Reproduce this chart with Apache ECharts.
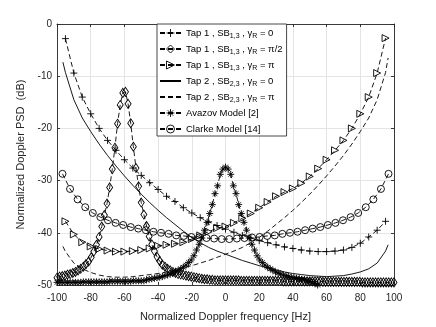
<!DOCTYPE html>
<html>
<head>
<meta charset="utf-8">
<script src="https://cdn.jsdelivr.net/npm/echarts@6/dist/echarts.min.js"></script>
<style>
html, body { margin: 0; padding: 0; background: #fff; }
#main { width: 436px; height: 327px; }
</style>
</head>
<body>
<div id="main"></div>
<script>
// frequency grids [Hz]
var freqTap1 = [-95, -90, -85, -80, -75, -70, -65, -60, -55, -50, -45, -40, -35, -30, -25, -20, -15, -10, -5, 0,
    5, 10, 15, 20, 25, 30, 35, 40, 45, 50, 55, 60, 65, 70, 75, 80, 85, 90, 95];
var freqTap2 = [-96.5, -95, -90, -85, -80, -75, -70, -65, -60, -55, -50, -45, -40, -35, -30, -25, -20, -15, -10, -5, 0,
    5, 10, 15, 20, 25, 30, 35, 40, 45, 50, 55, 60, 65, 70, 75, 80, 85, 90, 95, 96.5];
var freqDense = [];
for (var i = 0; i <= 128; i++) freqDense.push(-100 + i * 200 / 128);
var freqClarke = [-96.75, -92.25, -87.75, -83.25, -78.75, -74.25, -69.75, -65.25, -60.75, -56.25, -51.75,
    -47.25, -42.75, -38.25, -33.75, -29.25, -24.75, -20.25, -15.75, -11.25, -6.75, -2.25,
    2.25, 6.75, 11.25, 15.75, 20.25, 24.75, 29.25, 33.75, 38.25, 42.75, 47.25,
    51.75, 56.25, 60.75, 65.25, 69.75, 74.25, 78.75, 83.25, 87.75, 92.25, 96.75];

// PSD values [dB]
var tap1Zero = [-2.8, -9.4, -14.0, -17.2, -20.0, -22.3, -24.2, -26.0, -27.6, -29.0, -30.4, -31.7, -33.0, -34.0, -35.2,
    -36.2, -37.1, -37.9, -38.6, -39.3, -39.9, -40.5, -41.0, -41.5, -41.9, -42.3, -42.7, -43.0, -43.3, -43.5,
    -43.6, -43.6, -43.5, -43.3, -42.8, -42.0, -40.8, -39.5, -37.8];
var tap1HalfPi = [
    -48.6, -48.4, -48.3, -48.2, -48.0, -47.9, -47.7, -47.5, -47.2, -46.9, -46.5, -46.0, -45.5, -44.7, -43.6, -42.3,
    -40.8, -38.8, -36.6, -34.4, -31.3, -27.8, -23.7, -19.1, -15.5, -13.2, -13.0, -15.3, -19.0, -23.5, -27.6, -31.1,
    -34.2, -36.5, -38.7, -40.7, -42.2, -43.5, -44.6, -45.4, -46.1, -46.5, -46.9, -47.2, -47.5, -47.7, -47.9, -48.0,
    -48.1, -48.2, -48.3, -48.4, -48.5, -48.6, -48.7, -48.8, -48.9, -48.9, -49.0, -49.0, -49.1, -49.1, -49.1, -49.1,
    -49.1, -49.1, -49.1, -49.1, -49.1, -49.1, -49.2, -49.2, -49.2, -49.2, -49.2, -49.2, -49.2, -49.2, -49.2, -49.2,
    -49.2, -49.2, -49.2, -49.2, -49.2, -49.2, -49.3, -49.3, -49.3, -49.3, -49.3, -49.3, -49.3, -49.3, -49.3, -49.3,
    -49.3, -49.3, -49.3, -49.3, -49.3, -49.4, -49.4, -49.4, -49.4, -49.4, -49.4, -49.4, -49.4, -49.4, -49.4, -49.4,
    -49.4, -49.4, -49.4, -49.4, -49.5, -49.5, -49.5, -49.5, -49.5, -49.5, -49.5, -49.5, -49.5, -49.5, -49.5, -49.5,
    -49.5];
var tap1Pi = [-37.8, -40.3, -41.8, -42.6, -43.1, -43.4, -43.6, -43.6, -43.5, -43.3, -43.0, -42.5, -42.3, -42.1, -41.8,
    -41.2, -40.5, -39.8, -39.1, -38.8, -38.1, -37.2, -36.3, -35.2, -34.1, -33.0, -32.2, -31.5, -30.5, -29.2,
    -27.7, -26.0, -24.2, -22.3, -20.0, -17.2, -14.0, -9.4, -2.7];
var tap2Zero = [-7.3, -9.3, -14.5, -18.0, -20.6, -23.0, -25.2, -27.2, -29.1, -30.9, -32.6, -34.2, -35.7, -37.1, -38.4,
    -39.7, -40.9, -41.9, -42.8, -43.5, -44.1, -44.7, -45.3, -45.8, -46.3, -46.7, -47.1, -47.5, -47.8, -48.0,
    -48.2, -48.3, -48.4, -48.3, -48.2, -47.9, -47.5, -46.9, -45.8, -43.5, -42.3];
var tap2Pi = [-42.6, -43.6, -45.8, -46.9, -47.6, -48.1, -48.4, -48.5, -48.5, -48.4, -48.2, -48.0, -47.8, -47.5, -47.1,
    -46.7, -46.3, -45.8, -45.3, -44.7, -44.1, -43.5, -42.8, -41.9, -40.9, -39.7, -38.4, -37.1, -35.7, -34.2,
    -32.6, -30.9, -29.1, -27.2, -25.2, -23.0, -20.6, -18.0, -14.5, -9.3, -6.5];
var avazov = [
    -49.5, -49.5, -49.5, -49.5, -49.5, -49.5, -49.5, -49.5, -49.5, -49.5, -49.4, -49.4, -49.4, -49.4, -49.4, -49.4,
    -49.4, -49.4, -49.4, -49.4, -49.3, -49.3, -49.3, -49.3, -49.3, -49.3, -49.3, -49.3, -49.3, -49.2, -49.2, -49.2,
    -49.2, -49.2, -49.0, -48.9, -48.8, -48.7, -48.6, -48.5, -48.4, -48.2, -48.1, -47.9, -47.7, -47.5, -47.2, -46.9,
    -46.6, -46.2, -45.7, -45.2, -44.4, -43.3, -42.2, -41.0, -39.5, -38.0, -36.3, -34.6, -32.5, -31.0, -28.8, -27.8,
    -27.4,
    -27.8, -28.8, -31.0, -32.5, -34.6, -36.3, -38.0, -39.5, -41.0, -42.2, -43.3, -44.4, -45.2, -45.7, -46.2, -46.6,
    -46.9, -47.2, -47.5, -47.7, -47.9, -48.1, -48.2, -48.4, -48.5, -48.6, -48.7, -48.8, -48.9, -49.0, -49.2, -49.3,
    -49.5, -49.7, -50.0, -50.4, -50.6, -50.8, -51.0, -51.0, -51.0, -51.0, -51.0, -51.0, -51.0, -51.0, -51.0, -51.0,
    -51.0, -51.0, -51.0, -51.0, -51.0, -51.0, -51.0, -51.0, -51.0, -51.0, -51.0, -51.0, -51.0, -51.0, -51.0, -51.0];
var clarke = [-28.7, -31.6, -33.6, -35.1, -36.2, -37.0, -37.6, -38.1, -38.5, -38.9, -39.2, -39.5, -39.8, -40.0, -40.2,
    -40.5, -40.6, -40.8, -40.9, -41.0, -41.1, -41.2,
    -41.2, -41.1, -41.0, -40.9, -40.8, -40.6, -40.5, -40.2, -40.0, -39.8, -39.5, -39.2, -38.9, -38.5, -38.1,
    -37.6, -37.0, -36.2, -35.1, -33.6, -31.6, -28.7];

var xTicks = { min: -100, max: 100, step: 20 };
var yTicks = { min: -50, max: 0, step: 10 };

var seriesNames = [
    'Tap 1 , SB1,3 , γR = 0',
    'Tap 1 , SB1,3 , γR = π/2',
    'Tap 1 , SB1,3 , γR = π',
    'Tap 2 , SB2,3 , γR = 0',
    'Tap 2 , SB2,3 , γR = π',
    'Avazov Model [2]',
    'Clarke Model [14]'
];
var legendLabels = [
    'Tap 1 , SB{s|1,3} , γ{s|R} = 0',
    'Tap 1 , SB{s|1,3} , γ{s|R} = π/2',
    'Tap 1 , SB{s|1,3} , γ{s|R} = π',
    'Tap 2 , SB{s|2,3} , γ{s|R} = 0',
    'Tap 2 , SB{s|2,3} , γ{s|R} = π',
    'Avazov Model [2]',
    'Clarke Model [14]'
];

var FONT = '"Liberation Sans", Arial, Helvetica, sans-serif';
var INK = '#262626';
var PLUS = 'path://M0,5L10,5M5,0L5,10';
var STAR = 'path://M5,0L5,10M0,5L10,5M1.6,1.6L8.4,8.4M8.4,1.6L1.6,8.4';
var MARK = { color: 'rgba(0,0,0,0)', borderColor: '#000', borderWidth: 0.9 };
var NO_MARK = { color: 'rgba(0,0,0,0)', borderColor: 'rgba(0,0,0,0)', borderWidth: 0 };

function pairs(xs, ys) {
    return xs.map(function (x, k) { return [x, ys[k]]; });
}

function curve(name, xs, ys, symbol, size, dashed, extra) {
    var s = {
        name: name,
        type: 'line',
        data: pairs(xs, ys),
        symbol: symbol,
        symbolSize: size || 1,
        showSymbol: !!size,
        lineStyle: { color: '#000', width: 0.9, type: dashed ? [5, 3] : 'solid' },
        itemStyle: MARK,
        emphasis: { disabled: true },
        animation: false
    };
    if (extra) for (var k in extra) s[k] = extra[k];
    return s;
}

var chart = echarts.init(document.getElementById('main'), null, { renderer: 'canvas' });

var axisCommon = {
    type: 'value',
    axisLine: { show: true, onZero: false, lineStyle: { color: INK, width: 0.9 } },
    axisTick: { show: true, inside: true, length: 3, lineStyle: { color: INK, width: 0.9 } }
};

var legendData = seriesNames.map(function (n, k) {
    return { name: n, itemStyle: (k === 3 || k === 4) ? NO_MARK : MARK };
});

chart.setOption({
    backgroundColor: '#fff',
    animation: false,
    grid: { left: 57, right: 42, top: 24, bottom: 36, show: false },
    textStyle: { fontFamily: FONT },
    legend: {
        orient: 'vertical',
        left: 157,
        top: 24,
        data: legendData,
        formatter: function (name) { return legendLabels[seriesNames.indexOf(name)]; },
        backgroundColor: '#fff',
        borderColor: '#333',
        borderWidth: 0.9,
        borderRadius: 0,
        padding: [2, 4, 0, 2],
        itemGap: 2,
        itemWidth: 21,
        itemHeight: 10,
        selectedMode: false,
        itemStyle: MARK,
        textStyle: {
            fontFamily: FONT, fontSize: 9.5, color: '#000', lineHeight: 14,
            rich: { s: { fontFamily: FONT, fontSize: 7, lineHeight: 8, verticalAlign: 'bottom', color: '#000' } }
        }
    },
    xAxis: [
        Object.assign({}, axisCommon, {
            min: xTicks.min, max: xTicks.max, interval: xTicks.step, position: 'bottom',
            name: 'Normalized Doppler frequency [Hz]',
            nameLocation: 'middle', nameGap: 26,
            nameTextStyle: { fontFamily: FONT, fontSize: 11, color: INK },
            axisLabel: { margin: 8, fontFamily: FONT, fontSize: 10, color: INK },
            splitLine: { show: true, lineStyle: { color: '#e4e4e4', width: 1 } }
        }),
        Object.assign({}, axisCommon, {
            min: xTicks.min, max: xTicks.max, interval: xTicks.step, position: 'top',
            axisLabel: { show: false }, splitLine: { show: false }
        })
    ],
    yAxis: [
        Object.assign({}, axisCommon, {
            min: yTicks.min, max: yTicks.max, interval: yTicks.step, position: 'left',
            name: 'Normalized Doppler PSD  (dB)',
            nameLocation: 'middle', nameGap: 22,
            nameTextStyle: { fontFamily: FONT, fontSize: 11, color: INK },
            axisLabel: { margin: 5, fontFamily: FONT, fontSize: 10, color: INK },
            splitLine: { show: true, lineStyle: { color: '#e4e4e4', width: 1 } }
        }),
        Object.assign({}, axisCommon, {
            min: yTicks.min, max: yTicks.max, interval: yTicks.step, position: 'right',
            axisLabel: { show: false }, splitLine: { show: false }
        })
    ],
    series: [
        curve(seriesNames[0], freqTap1, tap1Zero, PLUS, 7, true),
        curve(seriesNames[1], freqDense, tap1HalfPi, 'diamond', [6, 9], true),
        curve(seriesNames[2], freqTap1, tap1Pi, 'triangle', 7, true, { symbolRotate: -90 }),
        curve(seriesNames[3], freqTap2, tap2Zero, 'circle', 0, false),
        curve(seriesNames[4], freqTap2, tap2Pi, 'circle', 0, true),
        curve(seriesNames[5], freqDense, avazov, STAR, 7, true),
        curve(seriesNames[6], freqClarke, clarke, 'circle', 7, true)
    ]
});
</script>
</body>
</html>
